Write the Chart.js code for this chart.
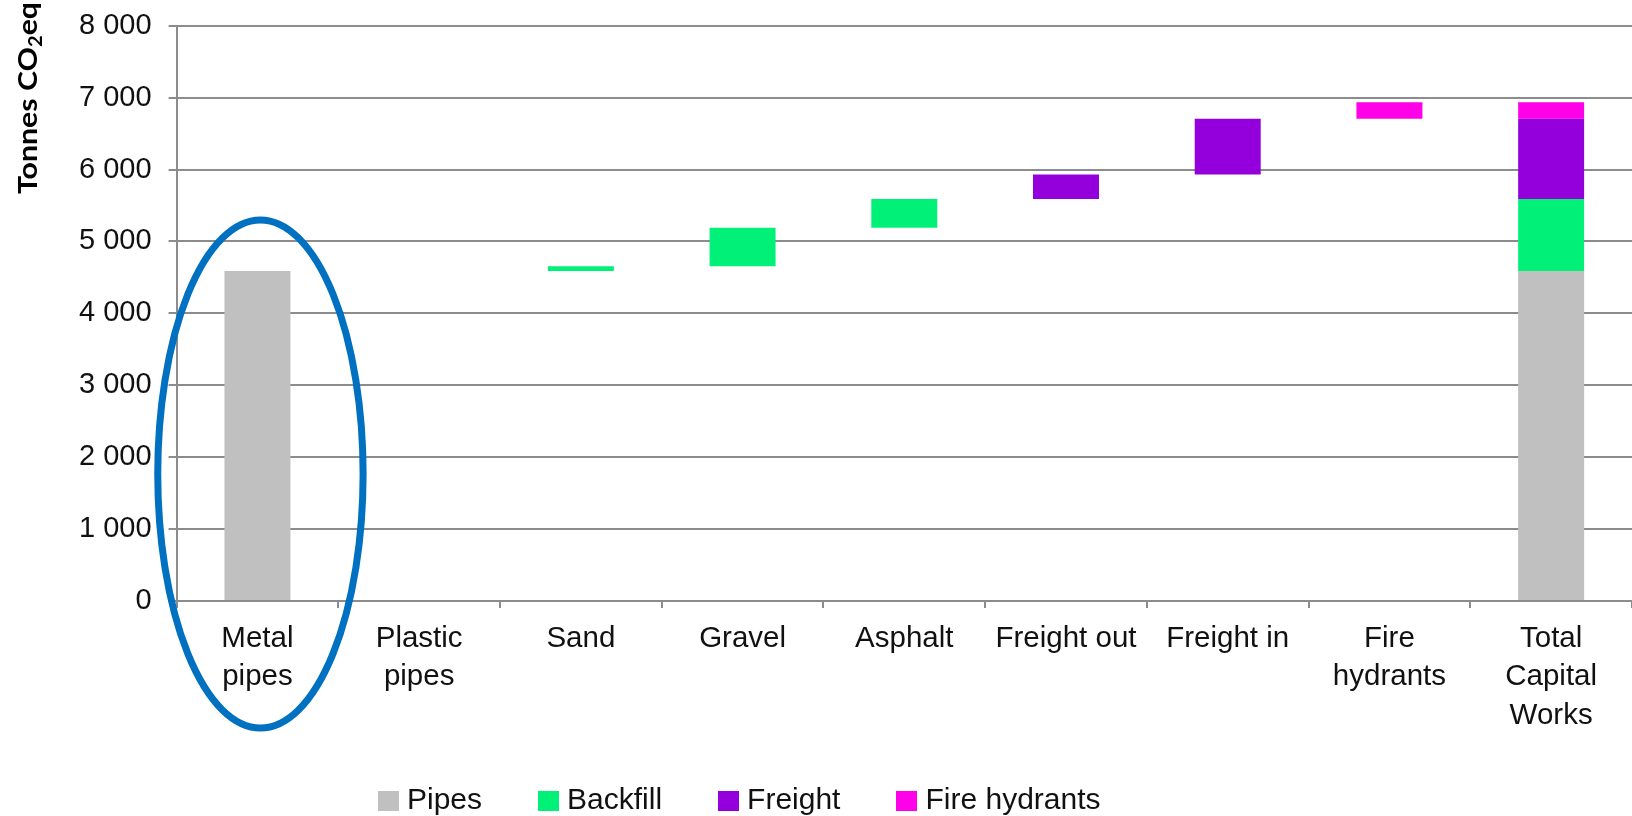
<!DOCTYPE html>
<html>
<head>
<meta charset="utf-8">
<script src="https://cdn.jsdelivr.net/npm/chart.js@4/dist/chart.umd.min.js"></script>
<style>
  html, body { margin: 0; padding: 0; background: #fff; }
  #wrap { position: relative; width: 1632px; height: 816px; }
  #legend {
    position: absolute; left: 378px; top: 785px;
    display: flex; align-items: center;
    font: 30px "Liberation Sans", Arial, sans-serif; line-height: 28px; color: #111;
  }
  .item { display: flex; align-items: center; margin-right: 56px; }
  .sw { width: 21px; height: 20px; margin-right: 8px; margin-top: 3px; }
</style>
</head>
<body>
<div id="wrap">
  <canvas id="c" width="1632" height="816"></canvas>
  <div id="legend"></div>
</div>
<script>
// Categories along the x axis; the last one is the stacked total
const categories = [
  ['Metal', 'pipes'], ['Plastic', 'pipes'], 'Sand', 'Gravel', 'Asphalt',
  'Freight out', 'Freight in', ['Fire', 'hydrants'], ['Total', 'Capital', 'Works']
];

// Tonnes CO2eq added at each step (one entry per step category)
const pipes        = [4590, 0, 0,  0,   0,   0,   0,   0];
const backfill     = [0,    0, 65, 535, 400, 0,   0,   0];
const freight      = [0,    0, 0,  0,   0,   340, 775, 0];
const fireHydrants = [0,    0, 0,  0,   0,   0,   0,   230];

const yTicks = [0, 1000, 2000, 3000, 4000, 5000, 6000, 7000, 8000];

const seriesNames  = ['Pipes', 'Backfill', 'Freight', 'Fire hydrants'];
const seriesColors = ['#c0c0c0', '#00f078', '#9300dc', '#ff00e8'];
const seriesValues = [pipes, backfill, freight, fireHydrants];

// Waterfall: each step floats on top of the running total,
// the final column stacks the sum of every series.
const stepCount = categories.length - 1;
const ranges = seriesValues.map(() => new Array(categories.length).fill(null));
let running = 0;
for (let i = 0; i < stepCount; i++) {
  seriesValues.forEach((vals, k) => {
    const v = vals[i];
    if (v > 0) { ranges[k][i] = [running, running + v]; running += v; }
  });
}
let base = 0;
seriesValues.forEach((vals, k) => {
  const t = vals.reduce((a, b) => a + b, 0);
  ranges[k][stepCount] = [base, base + t];
  base += t;
});

const datasets = seriesNames.map((name, k) => ({
  label: name,
  data: ranges[k],
  backgroundColor: seriesColors[k],
  borderWidth: 0,
  grouped: false,
  barPercentage: 0.408,
  categoryPercentage: 1
}));

const fmt = v => String(v).replace(/\B(?=(\d{3})+(?!\d))/g, ' ');

// Rotated y-axis title with a subscript 2
const yTitle = {
  id: 'yTitle',
  afterDraw(chart) {
    const ctx = chart.ctx;
    ctx.save();
    ctx.translate(37, 194);
    ctx.rotate(-Math.PI / 2);
    ctx.fillStyle = '#000';
    ctx.textAlign = 'left';
    ctx.textBaseline = 'alphabetic';
    const big = 'bold 27px Lato, "Open Sans", sans-serif';
    const small = 'bold 18px Lato, "Open Sans", sans-serif';
    ctx.font = big;  const w1 = ctx.measureText('Tonnes CO').width;
    ctx.font = small; const w2 = ctx.measureText('2').width;
    ctx.font = big;  const w3 = ctx.measureText('eq').width;
    let sx = 192 / (w1 + w2 + w3);
    sx = Math.max(0.8, Math.min(1.25, sx));
    ctx.scale(sx, 1);
    ctx.font = big;  ctx.fillText('Tonnes CO', 0, 0);
    ctx.font = small; ctx.fillText('2', w1, 5);
    ctx.font = big;  ctx.fillText('eq', w1 + w2, 0);
    ctx.restore();
  }
};

// Blue ring around the first column
const highlight = {
  id: 'highlight',
  afterDraw(chart) {
    const x = chart.scales.x, y = chart.scales.y, ctx = chart.ctx;
    const step = x.getPixelForValue(1) - x.getPixelForValue(0);
    const cx = x.getPixelForValue(0) + 3;
    const rx = step * 0.635;
    const top = y.getPixelForValue(5300);
    const bottom = chart.chartArea.bottom + 127;
    ctx.save();
    ctx.beginPath();
    ctx.ellipse(cx, (top + bottom) / 2, rx, (bottom - top) / 2, 0, 0, Math.PI * 2);
    ctx.lineWidth = 7;
    ctx.strokeStyle = '#0070c0';
    ctx.stroke();
    ctx.restore();
  }
};

const family = '"Liberation Sans", Arial, sans-serif';

new Chart(document.getElementById('c'), {
  type: 'bar',
  data: { labels: categories, datasets },
  options: {
    responsive: false,
    animation: false,
    layout: { padding: { left: 62, right: 0, top: 0, bottom: 70 } },
    plugins: { legend: { display: false }, tooltip: { enabled: false } },
    scales: {
      x: {
        grid: {
          offset: true, drawOnChartArea: false, drawTicks: true,
          tickLength: 7, color: '#8c8c8c', lineWidth: 2
        },
        border: { color: '#8c8c8c', width: 2 },
        ticks: {
          font: { family, size: 29.5, lineHeight: 1.31 }, color: '#111',
          padding: 11, maxRotation: 0, autoSkip: false
        }
      },
      y: {
        min: 0, max: 8000,
        afterBuildTicks: s => { s.ticks = yTicks.map(v => ({ value: v })); },
        grid: { color: '#8c8c8c', lineWidth: 2, tickLength: 8, drawTicks: true },
        border: { color: '#8c8c8c', width: 2 },
        ticks: {
          font: { family, size: 29, lineHeight: 0.6 }, color: '#111',
          padding: 17, callback: v => fmt(v)
        }
      }
    }
  },
  plugins: [yTitle, highlight]
});

// Legend below the plot
const legend = document.getElementById('legend');
seriesNames.forEach((name, k) => {
  const item = document.createElement('div');
  item.className = 'item';
  const sw = document.createElement('span');
  sw.className = 'sw';
  sw.style.background = seriesColors[k];
  const txt = document.createElement('span');
  txt.textContent = name;
  item.appendChild(sw);
  item.appendChild(txt);
  legend.appendChild(item);
});
</script>
</body>
</html>
